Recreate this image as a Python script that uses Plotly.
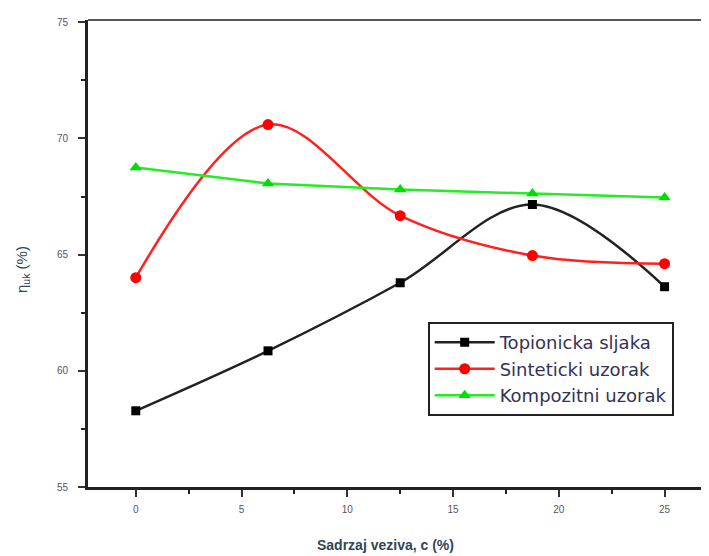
import plotly.graph_objects as go

x_vals = [0, 6.25, 12.5, 18.75, 25]
topionicka = [58.28, 60.86, 63.79, 67.16, 63.62]
sinteticki = [64.01, 70.60, 66.68, 64.96, 64.61]
kompozitni = [68.75, 68.06, 67.80, 67.63, 67.46]
x_ticks = [0, 5, 10, 15, 20, 25]
y_ticks = [55, 60, 65, 70, 75]

fig = go.Figure()
fig.add_trace(go.Scatter(x=x_vals, y=topionicka, name="Topionicka sljaka",
                         mode="lines+markers", line=dict(color="#222222", width=2.5, shape="spline", smoothing=1),
                         marker=dict(symbol="square", size=9, color="black")))
fig.add_trace(go.Scatter(x=x_vals, y=sinteticki, name="Sinteticki uzorak",
                         mode="lines+markers", line=dict(color="#ff2020", width=2.5, shape="spline", smoothing=1),
                         marker=dict(symbol="circle", size=11, color="#ff0000")))
fig.add_trace(go.Scatter(x=x_vals, y=kompozitni, name="Kompozitni uzorak",
                         mode="lines+markers", line=dict(color="#22ee22", width=2.5),
                         marker=dict(symbol="triangle-up", size=11, color="#00dd00")))

# page is rendered with an 8px body margin, so the figure is offset by (8, 8)
fig.update_layout(
    width=701, height=548,
    margin=dict(l=80, r=0, t=12, b=69, autoexpand=False),
    paper_bgcolor="white", plot_bgcolor="white",
    font=dict(family="Liberation Sans, Arial", color="#333344"),
    showlegend=True,
    legend=dict(x=0.547, y=0.353, xanchor="left", yanchor="top",
                bordercolor="#222222", borderwidth=2, bgcolor="white",
                font=dict(size=18, family="DejaVu Sans", color="#333355"),
                tracegroupgap=0, itemwidth=60),
)
fig.update_xaxes(range=[-2.26, 27.1], tickvals=x_ticks, ticks="outside", ticklen=7, tickwidth=2,
                 tickcolor="#333333", showgrid=False, zeroline=False, automargin=False,
                 showline=True, linecolor="#222222", linewidth=3, mirror=False,
                 tickfont=dict(size=10, color="#555566"), ticklabelstandoff=4,
                 minor=dict(ticks="outside", ticklen=4, tickwidth=2, dtick=2.5, tick0=0, tickcolor="#222222"))
fig.update_yaxes(range=[55, 75.1], tickvals=y_ticks, ticks="outside", ticklen=7, tickwidth=2,
                 tickcolor="#333333", showgrid=False, zeroline=False, automargin=False,
                 showline=True, linecolor="#222222", linewidth=3,
                 tickfont=dict(size=10, color="#555566"), ticklabelstandoff=8,
                 minor=dict(ticks="outside", ticklen=4, tickwidth=2, dtick=2.5, tick0=55, tickcolor="#222222"))
fig.add_shape(type="line", xref="paper", yref="paper", x0=0, x1=1, y0=1, y1=1,
              line=dict(color="#555555", width=2))
fig.add_annotation(text="<b>Sadrzaj veziva, c (%)</b>", xref="paper", yref="paper",
                   x=(385 - 88) / 621, y=-(545 - 487) / 467, xanchor="center", yanchor="middle",
                   showarrow=False, font=dict(size=14, color="#334455"))
fig.add_annotation(text="η<sub>uk</sub> (%)", xref="paper", yref="paper",
                   x=-(88 - 22) / 621, y=(487 - 270) / 467, xanchor="center", yanchor="middle",
                   textangle=-90, showarrow=False, font=dict(size=15, color="#334455"))
fig.write_html("out.html")
